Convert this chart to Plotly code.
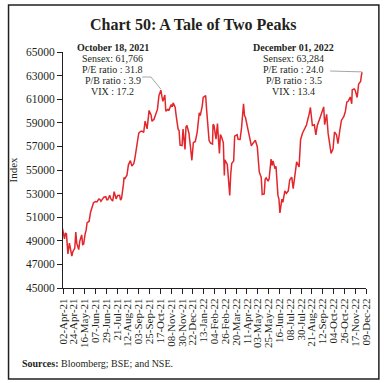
import pandas as pd
import plotly.graph_objects as go

dates = [
 "2021-04-01","2021-04-05","2021-04-07","2021-04-09","2021-04-12","2021-04-15","2021-04-20","2021-04-22","2021-04-26","2021-04-28","2021-04-30",
 "2021-05-04","2021-05-06","2021-05-10","2021-05-12","2021-05-14","2021-05-17","2021-05-19","2021-05-21","2021-05-25","2021-05-28",
 "2021-06-01","2021-06-03","2021-06-07","2021-06-10","2021-06-14","2021-06-16","2021-06-18","2021-06-22","2021-06-24","2021-06-28","2021-06-30",
 "2021-07-02","2021-07-06","2021-07-08","2021-07-12","2021-07-15","2021-07-19","2021-07-22","2021-07-26","2021-07-28","2021-07-30",
 "2021-08-03","2021-08-04","2021-08-06","2021-08-10","2021-08-13","2021-08-17","2021-08-20","2021-08-24","2021-08-26","2021-08-31",
 "2021-09-03","2021-09-07","2021-09-09","2021-09-13","2021-09-16","2021-09-20","2021-09-24","2021-09-28","2021-09-30",
 "2021-10-04","2021-10-07","2021-10-11","2021-10-14","2021-10-18","2021-10-20","2021-10-22","2021-10-26","2021-10-28",
 "2021-11-01","2021-11-03","2021-11-08","2021-11-10","2021-11-12","2021-11-16","2021-11-18","2021-11-22","2021-11-24","2021-11-26","2021-11-30",
 "2021-12-02","2021-12-06","2021-12-08","2021-12-10","2021-12-14","2021-12-17","2021-12-20","2021-12-23","2021-12-27","2021-12-31",
 "2022-01-04","2022-01-06","2022-01-10","2022-01-12","2022-01-17","2022-01-19","2022-01-21","2022-01-24","2022-01-27","2022-01-31",
 "2022-02-01","2022-02-03","2022-02-07","2022-02-10","2022-02-14","2022-02-16","2022-02-18","2022-02-22","2022-02-24","2022-02-25",
 "2022-03-02","2022-03-04","2022-03-07","2022-03-09","2022-03-11","2022-03-15","2022-03-17","2022-03-22","2022-03-24","2022-03-28","2022-03-31",
 "2022-04-04","2022-04-06","2022-04-08","2022-04-12","2022-04-18","2022-04-20","2022-04-22","2022-04-26","2022-04-28",
 "2022-05-02","2022-05-04","2022-05-06","2022-05-10","2022-05-12","2022-05-16","2022-05-18","2022-05-20","2022-05-24","2022-05-26","2022-05-30",
 "2022-06-01","2022-06-03","2022-06-07","2022-06-09","2022-06-13","2022-06-15","2022-06-17","2022-06-21","2022-06-23","2022-06-27","2022-06-30",
 "2022-07-04","2022-07-07","2022-07-11","2022-07-14","2022-07-18","2022-07-21","2022-07-26","2022-07-29",
 "2022-08-02","2022-08-05","2022-08-10","2022-08-16","2022-08-18","2022-08-22","2022-08-26","2022-08-29",
 "2022-09-01","2022-09-05","2022-09-08","2022-09-12","2022-09-14","2022-09-16","2022-09-20","2022-09-23","2022-09-26","2022-09-29",
 "2022-10-03","2022-10-06","2022-10-10","2022-10-13","2022-10-17","2022-10-20","2022-10-25","2022-10-28","2022-10-31",
 "2022-11-03","2022-11-07","2022-11-10","2022-11-11","2022-11-15","2022-11-17","2022-11-21","2022-11-24","2022-11-28","2022-11-30","2022-12-01",
]
sensex = [
 50030,49159,49662,49591,47883,48804,47706,48080,48387,49734,48782,
 48254,48950,49502,48690,48732,49580,49903,50540,50637,51423,
 51934,52232,52328,52300,52551,52501,52344,52588,52699,52735,52482,
 52485,52861,52568,52372,53158,52553,52837,52852,52443,52586,
 53823,54369,54277,54554,55437,55792,55329,55555,55949,57552,
 58130,58279,58305,58177,59141,58490,60048,59667,59126,
 59299,59678,60135,61306,61766,61259,60821,61350,59984,
 60138,60030,60545,60353,60687,60322,59636,58465,58341,57107,57065,
 58462,56747,58650,58787,58118,57012,55822,57316,57420,58254,
 59855,59602,60395,61150,61309,60099,59037,57492,57276,57200,
 58862,58788,57621,58926,56406,57996,57833,57300,54530,55858,
 55469,54334,52843,54647,55550,55776,57864,57989,57595,57593,58568,
 60612,59610,59447,58576,57167,57038,57197,57357,57521,
 56976,55669,54836,54365,52930,52974,54208,54326,54052,54253,55926,
 55382,55769,55107,55320,52847,52541,51360,52532,52266,53235,53019,
 53235,54178,54395,53417,54522,55682,55268,57570,
 58136,58388,58817,59843,60298,58774,58834,57973,
 58767,59246,59689,60115,60347,58841,59720,58099,57146,56410,
 56789,58222,57991,57236,58411,59203,59544,59960,60747,
 60837,61185,60614,61795,61872,61751,61145,62273,62505,63100,63284,
]

tick_start = "2021-04-02"
tick_end = "2022-12-09"
y_ticks = [45000, 47000, 49000, 51000, 53000, 55000, 57000, 59000, 61000, 63000, 65000]

peak1 = ("2021-10-18", 61766)
peak2 = ("2022-12-01", 63284)
label1 = ["<b>October 18, 2021</b>", "Sensex: 61,766", "P/E ratio : 31.8", "P/B ratio : 3.9", "VIX : 17.2"]
label2 = ["<b>December 01, 2022</b>", "Sensex: 63,284", "P/E ratio : 24.0", "P/B ratio : 3.5", "VIX : 13.4"]

FONT = "Liberation Serif"
TXT = "#231f20"

tickvals = pd.date_range(tick_start, tick_end, freq="22D")

fig = go.Figure()
fig.add_trace(go.Scatter(x=pd.to_datetime(dates), y=sensex, mode="lines",
                         line=dict(color="#e3262b", width=1.5), showlegend=False))

W, H = 385, 383
L, R, T, B = 60, 19, 52, 95
pw, ph = W - L - R, H - T - B

def px(xp):
    return (xp - L) / pw

def py(yp):
    return (H - B - yp) / ph

ann = []
ann.append(dict(x=px(192), y=py(24), xref="paper", yref="paper", xanchor="center", yanchor="middle",
                text="<b>Chart 50: A Tale of Two Peaks</b>", showarrow=False,
                font=dict(family=FONT, size=16, color=TXT)))
for lines, cx in ((label1, 110), (label2, 293)):
    for i, s in enumerate(lines):
        ann.append(dict(x=px(cx), y=py(47 + 11 * i), xref="paper", yref="paper",
                        text=s, showarrow=False, xanchor="center", yanchor="middle",
                        font=dict(family=FONT, size=10, color=TXT)))
ann.append(dict(x=px(17), y=py(363), xref="paper", yref="paper", xanchor="left", yanchor="middle",
                text="<b>Sources:</b> Bloomberg; BSE; and NSE.", showarrow=False,
                font=dict(family=FONT, size=10, color=TXT)))

p1 = pd.Timestamp(peak1[0])
p2 = pd.Timestamp(peak2[0])
shapes = [
    dict(type="path", xref="x", yref="y",
         path=f"M {(p1 - pd.Timedelta(days=38)).strftime('%Y-%m-%d')},62880 L {(p1 - pd.Timedelta(days=20)).strftime('%Y-%m-%d')},62880 L {p1.strftime('%Y-%m-%d')},{peak1[1] + 80}",
         line=dict(color="#a6a6a6", width=1)),
    dict(type="line", xref="x", yref="y",
         x0=(p2 - pd.Timedelta(days=65)).strftime('%Y-%m-%d'), y0=63390,
         x1=p2.strftime('%Y-%m-%d'), y1=peak2[1] + 30,
         line=dict(color="#a6a6a6", width=1)),
    dict(type="rect", xref="paper", yref="paper",
         x0=px(5), x1=px(379), y0=py(379), y1=py(5),
         line=dict(color="#231f20", width=1.5)),
]

fig.update_layout(
    width=W, height=H,
    margin=dict(l=L, r=R, t=T, b=B),
    paper_bgcolor="white", plot_bgcolor="white",
    annotations=ann, shapes=shapes,
    font=dict(family=FONT, color=TXT),
)
fig.update_xaxes(range=[pd.Timestamp(tick_start), pd.Timestamp(tick_end)],
                 tickvals=tickvals, tickformat="%d-%b-%y", tickangle=-90,
                 ticks="outside", ticklen=5, tickcolor=TXT, showline=True, linecolor=TXT,
                 linewidth=1, showgrid=False, zeroline=False,
                 tickfont=dict(family=FONT, size=11, color=TXT))
fig.update_yaxes(range=[45000, 65000], tickvals=y_ticks, tickformat="d",
                 ticks="outside", ticklen=5, tickcolor=TXT, showline=True, linecolor=TXT,
                 linewidth=1, showgrid=False, zeroline=False,
                 tickfont=dict(family=FONT, size=11.5, color=TXT),
                 title=dict(text="Index", standoff=6, font=dict(family=FONT, size=11, color=TXT)))

fig.write_html("out.html", config={"displayModeBar": False},
               post_script="document.body.style.margin='0';document.body.style.overflow='hidden';")
